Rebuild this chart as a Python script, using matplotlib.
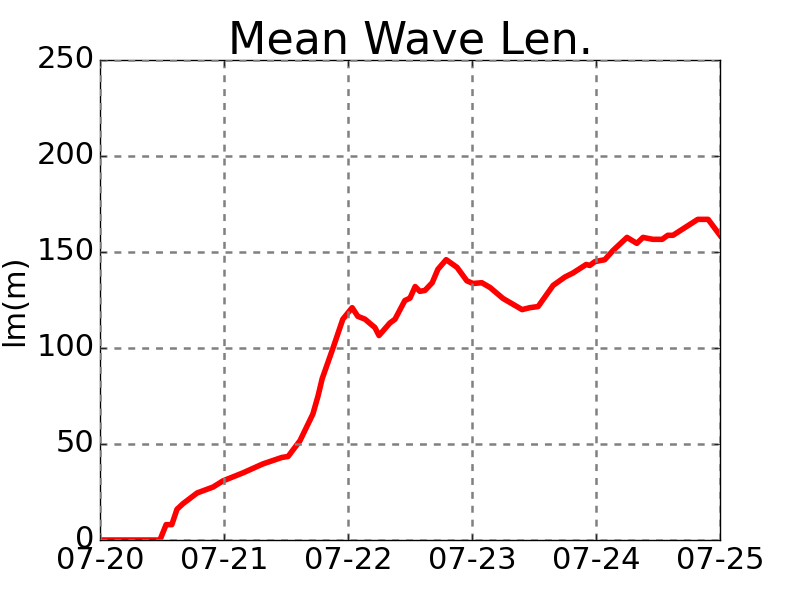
import datetime as dt

import matplotlib
matplotlib.use("Agg")
import matplotlib.pyplot as plt
import matplotlib.dates as mdates

# hours since 2016-07-20 00:00 and mean wave length (m)
hours = [0, 11.6, 12.8, 13.9, 14.9, 16.1, 18.8, 21.9, 23.8, 27.7, 31.5, 35.2,
         36.4, 38.7, 41.2, 42.2, 43.0, 45.1, 47.0, 48.8, 49.9, 51.3, 52.6, 53.2,
         54.0, 56.1, 57.1, 59.0, 60.0, 61.0, 61.9, 62.9, 64.3, 65.4, 67.0, 69.1,
         71.0, 72.2, 73.9, 75.5, 78.0, 81.7, 83.2, 84.8, 87.7, 90.0, 91.5, 94.1,
         94.8, 95.8, 97.7, 99.3, 102.0, 103.9, 105.1, 107.0, 108.8, 109.9, 110.9,
         112.8, 115.7, 117.7, 120.0]
wave_len = [0, 0, 8, 8, 16, 19, 24.5, 27.6, 30.8, 35, 39.6, 43,
            43.5, 51.7, 65.6, 75, 84, 100, 115, 121, 116.5, 115, 112, 110.7,
            106.5, 113, 115, 124.7, 126, 132, 129.5, 130, 134, 141, 146, 142,
            135, 133.6, 134, 131.5, 125.8, 120, 121, 121.6, 132.6, 137, 139, 143.5,
            143, 145, 146, 150.8, 157.6, 154.5, 157.6, 156.6, 156.6, 158.7, 158.7,
            162, 167, 167, 158.7]

start = dt.datetime(2016, 7, 20)
times = [start + dt.timedelta(hours=h) for h in hours]

plt.style.use("classic")
fig, ax = plt.subplots(figsize=(8, 6), dpi=100)

ax.plot(times, wave_len, color="red", linewidth=4)

ax.set_xlim(start, start + dt.timedelta(days=5))
ax.set_ylim(0, 250)
ax.xaxis.set_major_locator(mdates.DayLocator())
ax.xaxis.set_major_formatter(mdates.DateFormatter("%m-%d"))

ax.grid(True, color="gray", linestyle="--", linewidth=1.8, dashes=(5, 5))
ax.tick_params(labelsize=22)
ax.set_ylabel("lm(m)", fontsize=22)
ax.set_title("Mean Wave Len.", fontsize=32)

fig.savefig("out.png", dpi=100)
